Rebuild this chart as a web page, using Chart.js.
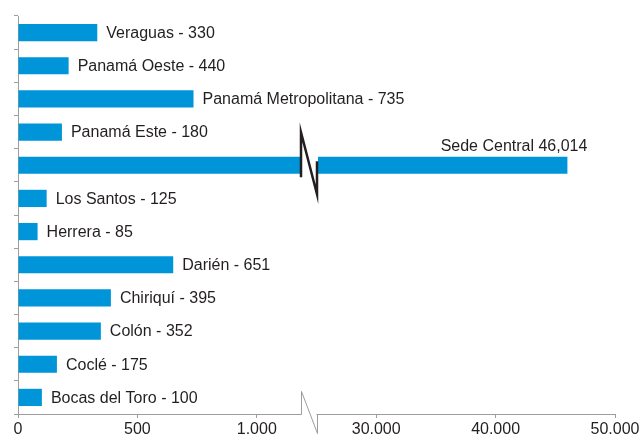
<!DOCTYPE html>
<html><head><meta charset="utf-8">
<script src="https://cdn.jsdelivr.net/npm/chart.js@4/dist/chart.umd.min.js"></script>
<style>html,body{margin:0;padding:0;background:#fff}canvas{display:block}</style>
</head><body>
<canvas id="c" width="644" height="434"></canvas>
<script>
// ---- data ----
const categories = ['Veraguas','Panamá Oeste','Panamá Metropolitana','Panamá Este','Sede Central','Los Santos','Herrera','Darién','Chiriquí','Colón','Coclé','Bocas del Toro'];
const barValues = [332, 212, 735, 184, 46014, 120, 82, 650, 389, 347, 163, 100];
const printedValues = ['330','440','735','180','46,014','125','85','651','395','352','175','100'];
const tickValues = [0, 500, 1000, 30000, 40000, 50000];
const breakLow = 1185;     // last value shown before the axis break
const breakHigh = 25000;   // first value shown after the axis break
const axisMax = 50000;

// ---- style ----
const FONT = "'Liberation Sans', Arial, sans-serif";
const TEXT = '#231f20';
const BLUE = '#0095d9';
const GREY = '#9d9d9d';

// broken linear scale: left part 0..breakLow, right part breakHigh..axisMax (right half of axis)
const leftSpan = 2500;       // value that would fill the whole width at the left rate
const rightStart = 0.5;      // fraction of the width where breakHigh sits
class BrokenLinearScale extends Chart.LinearScale {
  static id = 'brokenLinear';
  static defaults = Chart.LinearScale.defaults;
  toFraction(v) {
    if (v <= breakLow) return v / leftSpan;
    if (v >= breakHigh) return rightStart + (v - breakHigh) / (axisMax - breakHigh) * (1 - rightStart);
    return breakLow / leftSpan + (v - breakLow) / (breakHigh - breakLow) * (rightStart - breakLow / leftSpan);
  }
  getPixelForValue(v) {
    if (v === null || v === undefined || isNaN(v)) return NaN;
    return this.getPixelForDecimal(this.toFraction(+v));
  }
  getValueForPixel(p) {
    const f = this.getDecimalForPixel(p);
    if (f <= breakLow / leftSpan) return f * leftSpan;
    return breakHigh + (f - rightStart) / (1 - rightStart) * (axisMax - breakHigh);
  }
}
Chart.register(BrokenLinearScale);

function fmt(v) { return String(v).replace(/\B(?=(\d{3})+(?!\d))/g, '.'); }

const breakPlugin = {
  id: 'breaks',
  afterDatasetsDraw(chart) {
    const ctx = chart.ctx, xs = chart.scales.x, ca = chart.chartArea;
    const pL = Math.round(xs.getPixelForValue(breakLow));
    const pR = Math.round(xs.getPixelForValue(breakHigh));
    const meta = chart.getDatasetMeta(0);
    ctx.save();
    // axis break
    const ay = Math.round(ca.bottom) + 0.5;
    ctx.fillStyle = '#fff';
    ctx.fillRect(pL + 0.5, ay - 3, pR - pL - 1, 6);
    ctx.strokeStyle = GREY; ctx.lineWidth = 1;
    ctx.beginPath();
    ctx.moveTo(pL + 0.5, ay); ctx.lineTo(pL + 0.5, ay - 23);
    ctx.lineTo(pR + 0.5, ay + 19); ctx.lineTo(pR + 0.5, ay);
    ctx.stroke();
    // bar breaks + labels
    ctx.font = '16px ' + FONT;
    ctx.fillStyle = TEXT;
    meta.data.forEach((el, i) => {
      const v = barValues[i];
      if (v > breakLow) {
        const h = el.height;
        ctx.fillStyle = '#fff';
        ctx.fillRect(pL, el.y - h / 2 - 1, pR - pL + 1, h + 2);
        ctx.strokeStyle = TEXT; ctx.lineWidth = 2.5; ctx.lineJoin = 'miter';
        ctx.beginPath();
        ctx.moveTo(pL, el.y + 12); ctx.lineTo(pL, el.y - 33);
        ctx.lineTo(pR, el.y + 29); ctx.lineTo(pR, el.y - 4);
        ctx.stroke();
        ctx.fillStyle = TEXT;
        ctx.textAlign = 'right'; ctx.textBaseline = 'alphabetic';
        ctx.fillText(categories[i] + ' ' + printedValues[i], el.x + 20, el.y - 14);
      } else {
        ctx.fillStyle = TEXT;
        ctx.textAlign = 'left'; ctx.textBaseline = 'middle';
        ctx.fillText(categories[i] + ' - ' + printedValues[i], el.x + 9, el.y + 1);
      }
    });
    ctx.restore();
  }
};

new Chart(document.getElementById('c'), {
  type: 'bar',
  data: {
    labels: categories,
    datasets: [{ data: barValues, backgroundColor: BLUE, borderWidth: 0, barPercentage: 0.52, categoryPercentage: 1 }]
  },
  options: {
    indexAxis: 'y',
    responsive: false,
    animation: false,
    devicePixelRatio: 1,
    layout: { padding: { top: 16, left: 14, right: 29, bottom: 0 } },
    plugins: { legend: { display: false }, tooltip: { enabled: false } },
    scales: {
      x: {
        type: 'brokenLinear',
        position: 'bottom',
        min: 0, max: axisMax,
        afterBuildTicks: s => { s.ticks = tickValues.map(v => ({ value: v })); },
        afterFit: s => { s.height = 20; },
        grid: { drawOnChartArea: false, drawTicks: true, tickLength: 4, color: GREY },
        border: { display: true, color: GREY },
        ticks: { autoSkip: false, maxRotation: 0, padding: 2, color: TEXT, font: { family: FONT, size: 16 }, callback: v => fmt(v) }
      },
      y: {
        type: 'category',
        offset: true,
        afterFit: s => { s.width = 4; },
        grid: { offset: true, drawOnChartArea: false, drawTicks: true, tickLength: 4, color: GREY },
        border: { display: true, color: GREY },
        ticks: { display: false }
      }
    }
  },
  plugins: [breakPlugin]
});
</script>
</body></html>
